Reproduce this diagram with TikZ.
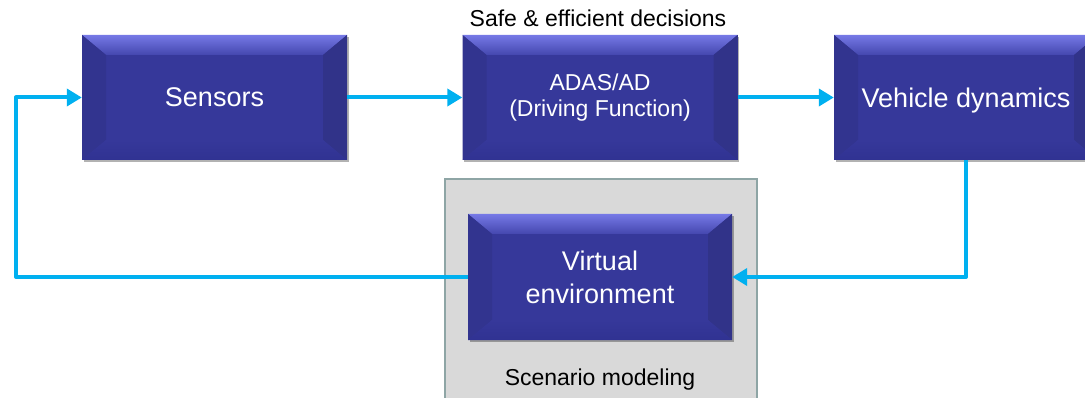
\documentclass[tikz,border=0pt]{standalone}
\usepackage{fontspec}
\setmainfont{Liberation Sans}
\usetikzlibrary{positioning,arrows.meta,shadows}

\definecolor{boxmain}{HTML}{36389A}
\definecolor{boxtop}{HTML}{7679E6}
\definecolor{boxtopin}{HTML}{4447AE}
\definecolor{boxleft}{HTML}{32348F}
\definecolor{boxright}{HTML}{313389}
\definecolor{boxbottom}{HTML}{303292}
\definecolor{flowcyan}{HTML}{00B0F0}
\definecolor{scenegray}{HTML}{D9D9D9}
\definecolor{sceneedge}{HTML}{8EA5A5}

\tikzset{
  bevelbox/.style={fill=boxmain, text=white, align=center, inner sep=0pt,
    minimum height=125pt, font=\fontsize{27}{33}\selectfont,
    drop shadow={shadow xshift=1.5pt, shadow yshift=-2pt, opacity=0.3, fill=black},
    path picture={
      \coordinate (bnw) at (path picture bounding box.north west);
      \coordinate (bne) at (path picture bounding box.north east);
      \coordinate (bsw) at (path picture bounding box.south west);
      \coordinate (bse) at (path picture bounding box.south east);
      \shade[top color=boxtop, bottom color=boxtopin] (bnw) -- (bne) -- ([xshift=-24pt,yshift=-20pt]bne) -- ([xshift=24pt,yshift=-20pt]bnw) -- cycle;
      \fill[boxleft] (bnw) -- ([xshift=24pt,yshift=-20pt]bnw) -- ([xshift=24pt,yshift=20pt]bsw) -- (bsw) -- cycle;
      \fill[boxright] (bne) -- ([xshift=-24pt,yshift=-20pt]bne) -- ([xshift=-24pt,yshift=20pt]bse) -- (bse) -- cycle;
      \shade[top color=boxmain, bottom color=boxbottom] (bsw) -- ([xshift=24pt,yshift=20pt]bsw) -- ([xshift=-24pt,yshift=20pt]bse) -- (bse) -- cycle;
    }},
  flow/.style={draw=flowcyan, line width=4pt, line join=round,
    -{Triangle[length=15pt,width=17pt]}},
  smalltext/.style={font=\fontsize{23}{26}\selectfont},
}

\begin{document}
\begin{tikzpicture}[x=1pt,y=-1pt]
  \useasboundingbox (0,0) rectangle (1085,398);

  % scenario area
  \node[draw=sceneedge, line width=2pt, fill=scenegray, minimum width=312pt, minimum height=240pt, anchor=north] (scenario) at (600.5,178) {};
  \node[smalltext] (scenlabel) at (600,380) {Scenario modeling};

  % blocks
  \node[bevelbox, minimum width=265pt, text depth=0pt] (sensors) at (214.5,97.5) {Sensors};
  \node[bevelbox, minimum width=275pt, smalltext] (adas) at (600,97.5) {ADAS/AD\\(Driving Function)};
  \node[bevelbox, minimum width=264pt, text depth=0pt] (vehicle) at (966,97.5) {Vehicle dynamics};
  \node[bevelbox, minimum width=264pt, minimum height=126pt] (virtenv) at (600,277) {Virtual\\environment};
  \node[smalltext] (decisions) at (598,18) {Safe \& efficient decisions};

  % signal flow
  \draw[flow] (sensors) -- (adas);
  \draw[flow] (adas) -- (vehicle);
  \draw[flow] (vehicle.south) |- (virtenv.east);
  \coordinate (loopturn) at (16,277);
  \draw[flow] (virtenv.west) -- (loopturn) |- (sensors.west);
\end{tikzpicture}
\end{document}
